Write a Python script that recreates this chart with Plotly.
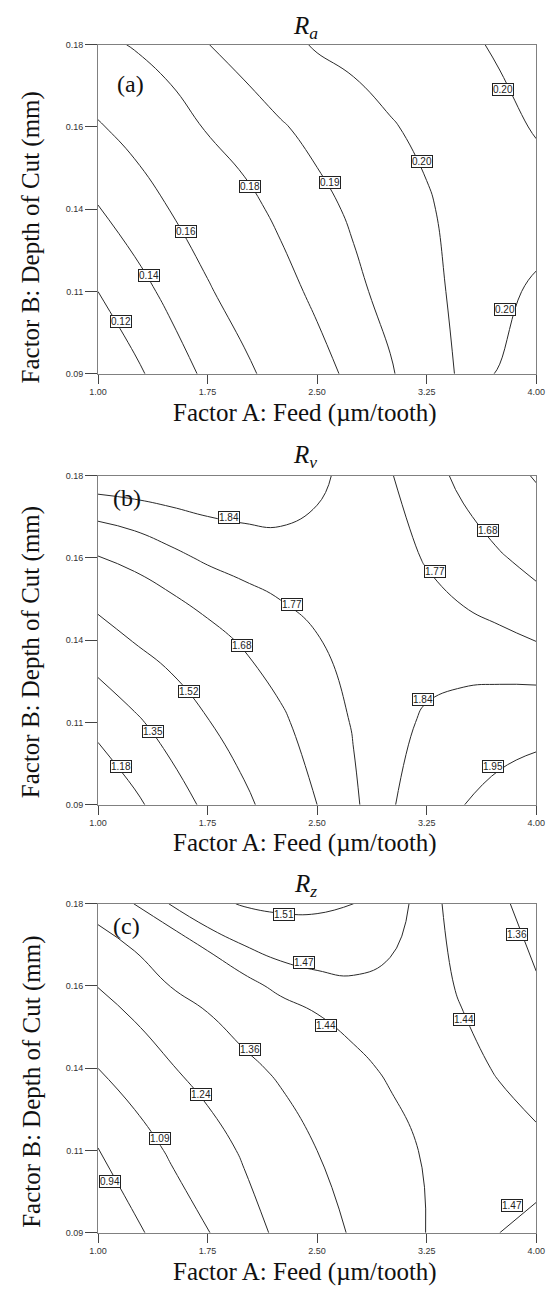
import plotly.graph_objects as go

# ---------------- data ----------------
feed = [1.0, 1.25, 1.5, 1.75, 2.0, 2.25, 2.5, 2.75, 3.0, 3.25, 3.5, 3.75, 4.0]
depth = [0.09, 0.1125, 0.135, 0.1575, 0.18]

feed_tickvals = [1.0, 1.75, 2.5, 3.25, 4.0]
feed_ticktext = ["1.00", "1.75", "2.50", "3.25", "4.00"]
depth_tickvals = [0.09, 0.1125, 0.135, 0.1575, 0.18]
depth_ticktext = ["0.09", "0.11", "0.14", "0.16", "0.18"]

# response values (rows = depth, cols = feed)
ra_z = [
    [0.101, 0.116, 0.130, 0.144, 0.1565, 0.1665, 0.1755, 0.183, 0.189, 0.1965, 0.2011, 0.1998, 0.196],
    [0.120, 0.1325, 0.1453, 0.1584, 0.1673, 0.1757, 0.1826, 0.1879, 0.193, 0.198, 0.2018, 0.2015, 0.199],
    [0.139, 0.150, 0.1606, 0.1686, 0.1765, 0.1826, 0.1872, 0.1915, 0.1954, 0.1992, 0.2025, 0.2035, 0.203],
    [0.1584, 0.1663, 0.1743, 0.1811, 0.1852, 0.1892, 0.1927, 0.1961, 0.1995, 0.2015, 0.2025, 0.2018, 0.1995],
    [0.1765, 0.181, 0.1854, 0.1898, 0.1936, 0.1974, 0.2008, 0.2025, 0.2032, 0.2028, 0.2012, 0.1992, 0.1965],
]
rv_z = [
    [1.02, 1.146, 1.267, 1.384, 1.490, 1.587, 1.68, 1.7575, 1.831, 1.891, 1.948, 1.998, 2.04],
    [1.231, 1.323, 1.42, 1.513, 1.589, 1.664, 1.724, 1.776, 1.815, 1.851, 1.87, 1.885, 1.90],
    [1.449, 1.528, 1.586, 1.643, 1.693, 1.730, 1.767, 1.787, 1.80, 1.805, 1.80, 1.788, 1.768],
    [1.675, 1.71, 1.75, 1.782, 1.80, 1.812, 1.815, 1.81, 1.795, 1.765, 1.728, 1.69, 1.645],
    [1.888, 1.892, 1.895, 1.897, 1.895, 1.885, 1.854, 1.818, 1.775, 1.719, 1.656, 1.581, 1.508],
]
rz_z = [
    [0.828, 0.916, 1.0, 1.083, 1.186, 1.266, 1.321, 1.37, 1.407, 1.441, 1.456, 1.47, 1.48],
    [0.935, 1.02, 1.108, 1.185, 1.255, 1.307, 1.36, 1.391, 1.423, 1.445, 1.452, 1.455, 1.453],
    [1.09, 1.16, 1.232, 1.286, 1.339, 1.376, 1.403, 1.43, 1.446, 1.452, 1.449, 1.437, 1.415],
    [1.243, 1.30, 1.362, 1.395, 1.428, 1.449, 1.459, 1.464, 1.462, 1.452, 1.436, 1.40, 1.367],
    [1.40, 1.441, 1.472, 1.50, 1.513, 1.518, 1.517, 1.51, 1.485, 1.456, 1.418, 1.373, 1.328],
]

ra_levels = [0.12, 0.14, 0.16, 0.18, 0.19, 0.20]
rv_levels = [1.18, 1.35, 1.52, 1.68, 1.77, 1.84, 1.95]
rz_levels = [0.94, 1.09, 1.24, 1.36, 1.44, 1.47, 1.51]

# contour label anchors (feed, depth, text)
ra_label_feed = [1.159, 1.351, 1.599, 2.043, 2.586, 3.215, 3.775, 3.785]
ra_label_depth = [0.1043, 0.1168, 0.1289, 0.1411, 0.1423, 0.1481, 0.1678, 0.1077]
ra_label_text = ["0.12", "0.14", "0.16", "0.18", "0.19", "0.20", "0.20", "0.20"]

rv_label_feed = [1.897, 2.328, 1.987, 1.623, 1.377, 1.159, 3.308, 3.669, 3.222, 3.705]
rv_label_depth = [0.1685, 0.1448, 0.1335, 0.1211, 0.1099, 0.1006, 0.1537, 0.1649, 0.1188, 0.1006]
rv_label_text = ["1.84", "1.77", "1.68", "1.52", "1.35", "1.18", "1.77", "1.68", "1.84", "1.95"]

rz_label_feed = [2.272, 2.407, 2.560, 2.043, 1.705, 1.421, 1.079, 3.507, 3.871, 3.834]
rz_label_depth = [0.1771, 0.1638, 0.1468, 0.1401, 0.1277, 0.1159, 0.1040, 0.1482, 0.1715, 0.0975]
rz_label_text = ["1.51", "1.47", "1.44", "1.36", "1.24", "1.09", "0.94", "1.44", "1.36", "1.47"]

titles = ["<i>R<sub>a</sub></i>", "<i>R<sub>v</sub></i>", "<i>R<sub>z</sub></i>"]
tags = ["(a)", "(b)", "(c)"]
x_title = "Factor A: Feed (\u00b5m/tooth)"
y_title = "Factor B: Depth of Cut (mm)"

# ---------------- layout constants ----------------
W, H = 552, 1294
X0, X1 = 92, 545
tops = [40, 474.3, 905.7]
PH = 331.7
title_y = [23, 455, 887]
tag_pos = [(126, 80), (122, 497), (121, 928)]
ytitle_y = [234, 652, 1085]

SERIF = "Liberation Serif, Times New Roman, serif"
SANS = "Liberation Sans, Arial, sans-serif"
LINE_COL = "#2a2a2a"

fig = go.Figure()
annotations = []

panels = [
    (ra_z, ra_levels, ra_label_feed, ra_label_depth, ra_label_text),
    (rv_z, rv_levels, rv_label_feed, rv_label_depth, rv_label_text),
    (rz_z, rz_levels, rz_label_feed, rz_label_depth, rz_label_text),
]

layout_axes = {}
for i, (z, levels, lf, ld, lt) in enumerate(panels):
    n = "" if i == 0 else str(i + 1)
    xa, ya = "x" + n, "y" + n
    for lev in levels:
        fig.add_trace(go.Contour(
            x=feed, y=depth, z=z, xaxis=xa, yaxis=ya,
            contours=dict(coloring="lines", start=lev, end=lev, size=1, showlabels=False),
            line=dict(width=1, smoothing=1.3),
            colorscale=[[0, LINE_COL], [1, LINE_COL]],
            showscale=False, hoverinfo="skip",
        ))
    for fx, dy, tx in zip(lf, ld, lt):
        annotations.append(dict(
            xref=xa, yref=ya, x=fx, y=dy, text=tx, showarrow=False,
            font=dict(family=SANS, size=10, color="#222"),
            bgcolor="white", bordercolor="#222", borderwidth=1, borderpad=0,
        ))
    top = tops[i]
    layout_axes["xaxis" + n] = dict(
        domain=[X0 / W, X1 / W], range=[1, 4], anchor=ya,
        tickmode="array", tickvals=feed_tickvals, ticktext=feed_ticktext,
        ticks="outside", ticklen=9, tickcolor="#444", tickwidth=1,
        tickfont=dict(family=SANS, size=9, color="#333"),
        ticklabeloverflow="allow",
        showline=True, mirror=True, linecolor="#808080", linewidth=1,
        showgrid=False, zeroline=False,
    )
    layout_axes["yaxis" + n] = dict(
        domain=[1 - (top + PH) / H, 1 - top / H], range=[0.09, 0.18], anchor=xa,
        tickmode="array", tickvals=depth_tickvals, ticktext=depth_ticktext,
        ticks="outside", ticklen=12, tickcolor="#444", tickwidth=1,
        tickfont=dict(family=SANS, size=9, color="#333"),
        ticklabeloverflow="allow",
        showline=True, mirror=True, linecolor="#808080", linewidth=1,
        showgrid=False, zeroline=False,
    )
    annotations.append(dict(xref="paper", yref="paper", x=306 / W, y=1 - title_y[i] / H,
                            text=titles[i], showarrow=False, xanchor="center", yanchor="middle",
                            font=dict(family=SERIF, size=25, color="#111")))
    annotations.append(dict(xref="paper", yref="paper", x=tag_pos[i][0] / W, y=1 - tag_pos[i][1] / H,
                            text=tags[i], showarrow=False, xanchor="center", yanchor="middle",
                            font=dict(family=SERIF, size=24, color="#111")))
    annotations.append(dict(xref="paper", yref="paper", x=306 / W, y=1 - (top + PH + 39) / H,
                            text=x_title, showarrow=False, xanchor="center", yanchor="middle",
                            font=dict(family=SERIF, size=25, color="#111")))
    annotations.append(dict(xref="paper", yref="paper", x=23 / W, y=1 - ytitle_y[i] / H,
                            text=y_title, showarrow=False, xanchor="center", yanchor="middle",
                            textangle=-90, font=dict(family=SERIF, size=25, color="#111")))

fig.update_layout(
    width=W, height=H, margin=dict(l=0, r=0, t=0, b=0),
    paper_bgcolor="white", plot_bgcolor="white",
    showlegend=False, annotations=annotations, **layout_axes,
)

fig.write_html("out.html")
